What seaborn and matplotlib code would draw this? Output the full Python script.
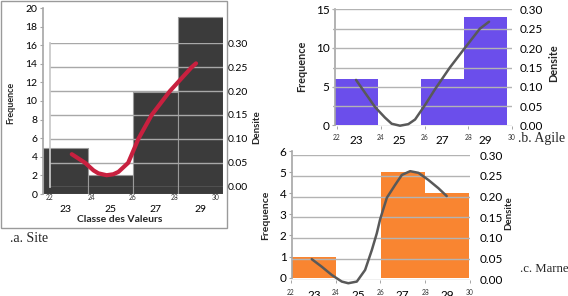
import numpy as np
import matplotlib

matplotlib.use('Agg')
import matplotlib.pyplot as plt
import seaborn as sns
from matplotlib.patches import Rectangle
from matplotlib.ticker import FormatStrFormatter

sns.set_theme(style="white")
plt.rcParams['font.family'] = ['Lato', 'DejaVu Sans']

# ---- données ----
classes = ['23', '25', '27', '29']
edge_ticks = [22, 24, 26, 28, 30]
density_ticks = [0.00, 0.05, 0.10, 0.15, 0.20, 0.25, 0.30]

# a. Site
site_freq = [5, 2, 11, 19]
site_x = [23.05, 23.69, 24.1, 24.33, 24.73, 25.05, 25.3, 25.77, 26.26, 26.9, 27.78, 28.83, 29.04]
site_d = [0.068, 0.05, 0.034, 0.028, 0.024, 0.026, 0.031, 0.05, 0.10, 0.15, 0.20, 0.25, 0.258]

# b. Agile
agile_freq = [6, 0, 6, 14]
agile_x = [22.87, 23.28, 23.74, 24.19, 24.5, 24.88, 25.26, 25.57, 26.02, 26.48, 27.16, 27.84, 28.53, 28.95]
agile_d = [0.118, 0.085, 0.048, 0.021, 0.005, 0.0, 0.004, 0.016, 0.053, 0.094, 0.15, 0.20, 0.25, 0.268]

# c. Marne
marne_freq = [1, 0, 5, 4]
marne_x = [22.94, 23.38, 23.83, 24.28, 24.57, 24.95, 25.32, 25.62, 25.84, 25.99, 26.29,
           26.66, 26.96, 27.33, 27.7, 28.14, 28.59, 28.96]
marne_d = [0.049, 0.031, 0.011, -0.005, -0.009, -0.005, 0.023, 0.071, 0.111, 0.145, 0.197,
           0.228, 0.252, 0.261, 0.257, 0.24, 0.22, 0.201]

W, H = 568, 296
fig = plt.figure(figsize=(W / 100, H / 100), dpi=100)


def box(l, t, r, b):
    # pixel box -> fraction de figure
    return [l / W, 1 - b / H, (r - l) / W, (b - t) / H]


def ptext(x, y, s, **kw):
    fig.text(x / W, 1 - y / H, s, **kw)


def bars(pos, freq, ymax, step, color, edge, lw, fs, xpad):
    ax = fig.add_axes(pos)
    sns.barplot(x=classes, y=freq, ax=ax, color=color, saturation=1, width=1,
                edgecolor=edge, linewidth=lw)
    ax.set_xlim(-0.5, 3.5)
    ax.set_ylim(0, ymax)
    ax.set_yticks(list(range(0, ymax + 1, step)))
    ax.set_xlabel('')
    ax.set_ylabel('')
    ax.patch.set_alpha(0)
    for s in ['top', 'right', 'bottom']:
        ax.spines[s].set_visible(False)
    ax.spines['left'].set_color('#a6a6a6')
    ax.spines['left'].set_linewidth(1.2)
    ax.tick_params(axis='y', left=True, length=2.5, width=0.8, color='#a6a6a6',
                   pad=1.5, labelsize=fs, labelcolor='black')
    ax.tick_params(axis='x', length=0, pad=xpad, labelsize=fs, labelcolor='black')
    return ax


def dens(pos, xlim, lx, ld, color, lw, grid_c, fs, small_pad, rpad, left_spine, tick_len):
    ax2 = fig.add_axes(pos)
    ax2.patch.set_alpha(0)
    sns.lineplot(x=lx, y=ld, ax=ax2, sort=False, estimator=None, color=color,
                 linewidth=lw, clip_on=False, solid_capstyle='round', solid_joinstyle='round')
    ax2.set_xlim(*xlim)
    ax2.set_ylim(0, 0.30)
    ax2.set_yticks(density_ticks)
    ax2.yaxis.set_major_formatter(FormatStrFormatter('%.2f'))
    ax2.set_xticks(edge_ticks)
    ax2.set_xticklabels([str(v) for v in edge_ticks])
    ax2.yaxis.tick_right()
    ax2.grid(axis='y', color=grid_c, linewidth=1.0)
    ax2.grid(axis='x', visible=False)
    for s in ['top', 'right', 'bottom']:
        ax2.spines[s].set_visible(False)
    ax2.spines['left'].set_visible(left_spine)
    ax2.spines['left'].set_color('#c8c8c8')
    ax2.tick_params(axis='y', right=True, left=False, length=0, pad=rpad,
                    labelsize=fs, labelcolor='black')
    ax2.tick_params(axis='x', bottom=True, length=tick_len, width=0.7, color='#a6a6a6',
                    pad=small_pad, labelsize=4.8, labelcolor='#333333')
    ax2.set_xlabel('')
    ax2.set_ylabel('')
    return ax2


# ---- a. Site ----
bars(box(43, 8, 223, 194), site_freq, 20, 2, '#3b3b3b', '#9a9a9a', 0.8, 7.5, 8)
dens(box(50, 43.3, 223, 186.7), (22, 30.34), site_x, site_d, '#c8203f', 3.0,
     '#a8a8a8', 7.5, 5.5, 3.6, True, 0)
ptext(11, 103, 'Frequence', rotation=90, ha='center', va='center', fontsize=6.5, fontweight='bold')
ptext(120, 219, 'Classe des Valeurs', ha='center', va='center', fontsize=7.5, fontweight='bold')
ptext(257, 127, 'Densite', rotation=90, ha='center', va='center', fontsize=7, fontweight='bold')
ptext(10, 238, '.a. Site', ha='left', va='center', fontsize=10, family='Liberation Serif')
fig.patches.append(Rectangle((0.5 / W, 1 - 228 / H), 226.5 / W, 227.5 / H,
                             transform=fig.transFigure, fill=False, ec='#9a9a9a', lw=1))

# ---- b. Agile ----
bars(box(335, 9, 507, 125.3), agile_freq, 15, 5, '#6b4eeb', 'none', 0, 8.5, 7.3)
dens(box(333, 9.3, 512, 125.7), (21.817, 30), agile_x, agile_d, '#595959', 1.8,
     '#b3b3b3', 8.5, 3.5, 5.8, False, 2.2)
ptext(302, 66, 'Frequence', rotation=90, ha='center', va='center', fontsize=7.8, fontweight='bold')
ptext(554, 63, 'Densite', rotation=90, ha='center', va='center', fontsize=7.8, fontweight='bold')
ptext(518, 139, '.b. Agile', ha='left', va='center', fontsize=10, family='Liberation Serif')

# ---- c. Marne ----
bars(box(292, 151, 469, 277.7), marne_freq, 6, 1, '#f98531', 'none', 0, 8.5, 8.5)
dens(box(290.7, 155, 470, 279.5), (22, 30), marne_x, marne_d, '#595959', 1.8,
     '#b3b3b3', 8.5, 4.3, 7.2, False, 2.2)
ptext(266, 215, 'Frequence', rotation=90, ha='center', va='center', fontsize=7.5, fontweight='bold')
ptext(509, 213, 'Densite', rotation=90, ha='center', va='center', fontsize=7, fontweight='bold')
ptext(520, 269, '.c. Marne', ha='left', va='center', fontsize=9.2, family='Liberation Serif')

fig.savefig('out.png', dpi=100)
